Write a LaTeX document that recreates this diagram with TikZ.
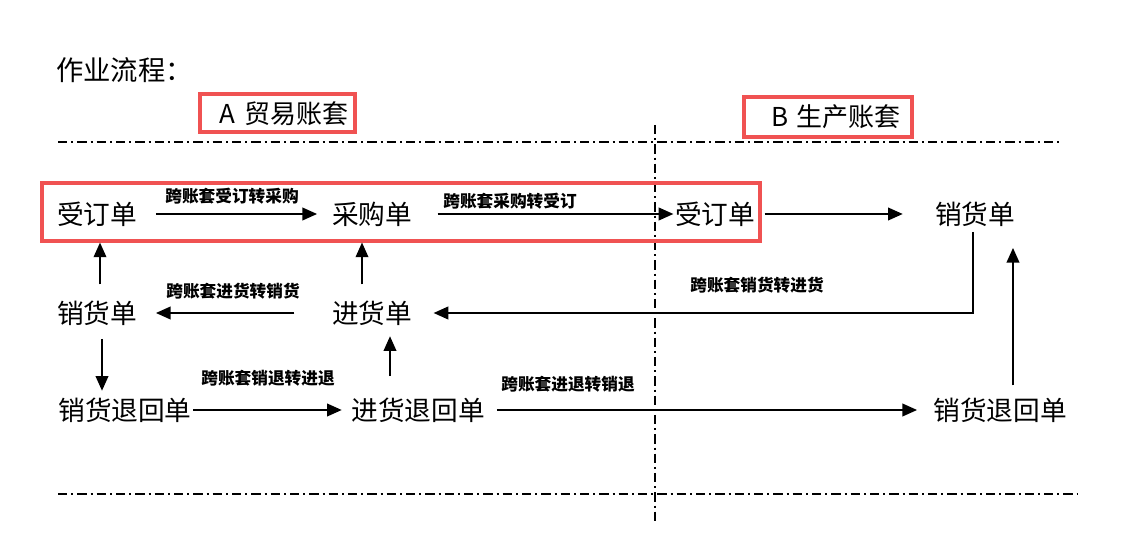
\documentclass[tikz,border=0pt]{standalone}
\usepackage{fontspec}
\setmainfont{Noto Sans CJK SC}
\usepackage{tikz}
\usetikzlibrary{arrows.meta,calc}
\definecolor{boxred}{RGB}{240,82,82}

\begin{document}
\begin{tikzpicture}[x=0.75pt,y=0.75pt,yscale=-1,xscale=1,
    doc/.style={font=\fontsize{20}{22}\selectfont, inner sep=0pt},
    lbl/.style={font=\fontsize{12.5}{14}\selectfont\bfseries, inner sep=0pt},
    arr/.style={-{Triangle[length=11pt,width=9.5pt]}, line width=1.3pt},
    sep/.style={line width=1.1pt, dash pattern=on 7pt off 3pt on 1.5pt off 3pt},
    redbox/.style={draw=boxred, line width=3pt}]
        \useasboundingbox (0,0) rectangle (1133,545);

        % Text Node
        \node [doc, font=\fontsize{20.5}{22}\selectfont, anchor=west] (title) at (56,70) {作业流程：};

        %Shape: Rectangle [id:boxA]
        \draw [redbox] (200,94) rectangle (355,132);
        \node [doc, font=\fontsize{19.5}{21}\selectfont] (ta) at (284,114) {A\,\,贸易账套};
        %Shape: Rectangle [id:boxB]
        \draw [redbox] (744,97) rectangle (912,137);
        \node [doc, font=\fontsize{19.5}{21}\selectfont] (tb) at (836,117) {B\,\,生产账套};

        %Straight Lines [id:separators]
        \draw [sep] (58,142) -- (1063,142);
        \draw [sep] (58,494) -- (1078,494);
        \draw [sep] (655,125) -- (655,525);

        %Shape: Rectangle [id:crossbox]
        \draw [redbox] (42,183) rectangle (760,241);

        % Text Node
        \node [doc] (sd1) at (97,214) {受订单};
        \node [doc] (cg1) at (372,214) {采购单};
        \node [doc] (sd2) at (715,214) {受订单};
        \node [doc] (xh2) at (975,214) {销货单};
        \node [doc] (xh1) at (97,313) {销货单};
        \node [doc] (jh1) at (372,313) {进货单};
        \node [doc] (xt1) at (125,410) {销货退回单};
        \node [doc] (jt1) at (418,410) {进货退回单};
        \node [doc] (xt2) at (1000,410) {销货退回单};

        % Text Node
        \node [lbl] (l1) at (232,196) {跨账套受订转采购};
        \node [lbl] (l2) at (510,201) {跨账套采购转受订};
        \node [lbl] (l3) at (233,291) {跨账套进货转销货};
        \node [lbl] (l4) at (757,285) {跨账套销货转进货};
        \node [lbl] (l5) at (268,378) {跨账套销退转进退};
        \node [lbl] (l6) at (568,384) {跨账套进退转销退};

        %Straight Lines [id:top row]
        \draw [arr, shorten <=14pt, shorten >=11pt] (sd1) -- (cg1);
        \draw [arr, shorten <=19pt, shorten >=1pt] (cg1) -- (sd2);
        \draw [arr, shorten <=7pt, shorten >=24pt] (sd2) -- (xh2);
        %Straight Lines [id:middle row]
        \draw [arr, shorten <=4pt, shorten >=16pt] ($(xh2.south)+(-2,0)$) |- (jh1);
        \draw [arr, shorten <=28pt, shorten >=14pt] (jh1) -- (xh1);
        \draw [arr, shorten <=12pt, shorten >=12pt] ($(xh1.north)+(3,0)$) -- ($(sd1.south)+(3,0)$);
        \draw [arr, shorten <=12pt, shorten >=12pt] ($(jh1.north)+(-10,0)$) -- ($(cg1.south)+(-10,0)$);
        %Straight Lines [id:bottom row]
        \draw [arr, shorten <=10pt, shorten >=5pt] ($(xh1.south)+(5,0)$) -- ($(xt1.north)+(-23,0)$);
        \draw [arr, shorten <=1pt, shorten >=7pt] (xt1) -- (jt1);
        \draw [arr, shorten <=16pt, shorten >=8pt] ($(jt1.north)+(-28,0)$) -- ($(jh1.south)+(18,0)$);
        \draw [arr, shorten <=9pt, shorten >=12pt] (jt1) -- (xt2);
        \draw [arr, shorten <=9pt, shorten >=16pt] ($(xt2.north)+(13,0)$) -- ($(xh2.south)+(38,0)$);

\end{tikzpicture}
\end{document}
